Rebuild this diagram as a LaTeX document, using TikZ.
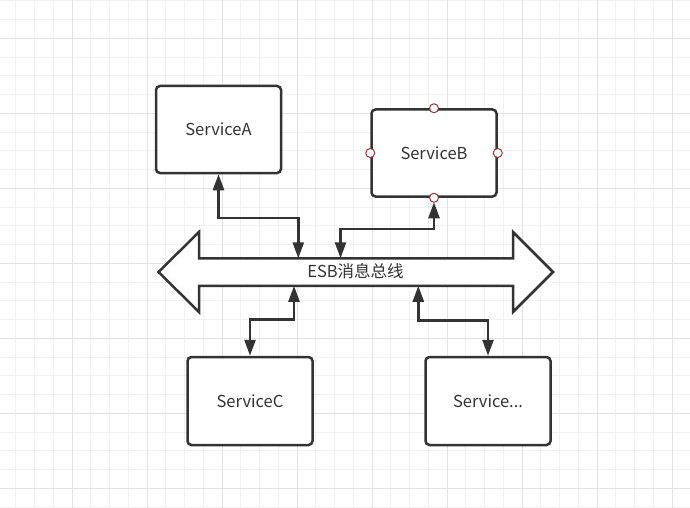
\documentclass[tikz,border=0pt]{standalone}
\usepackage{fontspec}
\setmainfont{Noto Sans CJK SC}
\usetikzlibrary{arrows.meta}
\definecolor{ink}{HTML}{333333}
\definecolor{gridminor}{HTML}{F1F1F1}
\definecolor{gridmajor}{HTML}{E2E2E2}
\definecolor{portred}{HTML}{A33333}
\tikzset{
  svc/.style={draw=ink, line width=2.5pt, rounded corners=4pt, fill=white,
    minimum width=125pt, minimum height=87pt, inner sep=0pt,
    text=ink, font=\fontsize{16.5}{20}\selectfont},
  bus/.style={draw=ink, line width=2.5pt, fill=white, line join=miter},
  link/.style={draw=ink, line width=2.5pt,
    {Triangle[length=16pt,width=11pt]}-{Triangle[length=16pt,width=11pt]}},
  port/.style={circle, draw=portred, fill=white, line width=1pt,
    minimum size=9pt, inner sep=0pt},
}
\begin{document}
\begin{tikzpicture}[x=1pt,y=-1pt]
  \useasboundingbox (0,0) rectangle (690,508);
  \fill[white] (0,0) rectangle (690,508);
  % background grid
  \foreach \i in {0,...,36} {
    \draw[gridminor, line width=1pt] ({15.95+18.75*\i},0) -- ({15.95+18.75*\i},508);
  }
  \foreach \i in {0,...,27} {
    \draw[gridminor, line width=1pt] (0,{0.8+18.75*\i}) -- (690,{0.8+18.75*\i});
  }
  \foreach \i in {0,...,8} {
    \draw[gridmajor, line width=1pt] ({72.2+75*\i},0) -- ({72.2+75*\i},508);
  }
  \foreach \i in {0,...,6} {
    \draw[gridmajor, line width=1pt] (0,{38.3+75*\i}) -- (690,{38.3+75*\i});
  }

  % message bus as a double-headed arrow
  \draw[bus] (158.5,272) -- (199,232) -- (199,258.3) -- (513,258.3) -- (513,232)
    -- (553,272) -- (513,312) -- (513,285.8) -- (199,285.8) -- (199,312) -- cycle;
  \node[text=ink, font=\fontsize{16.5}{20}\selectfont] (esb) at (355.5,271) {ESB消息总线};
  \coordinate (busA) at (298.3,258.3);
  \coordinate (busB) at (340.5,258.3);
  \coordinate (busC) at (294,285.8);
  \coordinate (busD) at (418.3,285.8);

  % services
  \node[svc] (A) at (218.5,129.5) {ServiceA};
  \node[svc] (B) at (434,153) {ServiceB};
  \node[svc, minimum height=88pt] (C) at (250,401) {ServiceC};
  \node[svc, minimum height=88pt] (D) at (488,401) {Service...};
  \coordinate (Bport) at ([yshift=-4.5pt]B.south);

  % connectors
  \draw[link] (A.south) -- ++(0,43.5) -| (busA);
  \draw[link] (Bport) -- ++(0,26.8) -| (busB);
  \draw[link] (C.north) -- ++(0,-36.5) -| (busC);
  \draw[link] (D.north) -- ++(0,-35.5) -| (busD);

  % connection points of ServiceB
  \node[port] (Bn) at (B.north) {};
  \node[port] (Bs) at (B.south) {};
  \node[port] (Bw) at (B.west) {};
  \node[port] (Be) at (B.east) {};
\end{tikzpicture}
\end{document}
